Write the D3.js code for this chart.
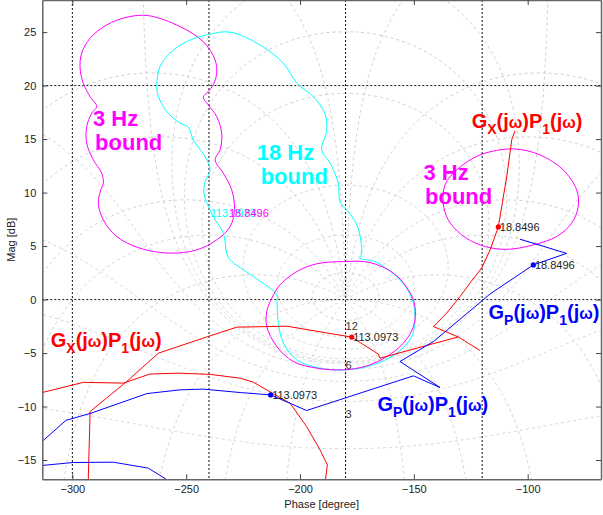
<!DOCTYPE html>
<html><head><meta charset="utf-8">
<script src="https://cdn.jsdelivr.net/npm/d3@7"></script>
<style>
body{margin:0;background:#fff;}
svg{display:block;font-family:"Liberation Sans",Arial,sans-serif;}
</style></head>
<body><svg id="chart" width="603" height="515"></svg>
<script>
// ---------- data (phase [deg], magnitude [dB]) ----------
const xTicks = [-300, -250, -200, -150, -100];
const yTicks = [-15, -10, -5, 0, 5, 10, 15, 20, 25];
const refPhases = [-300, -240, -180, -120];
const refMags = [0, 20];

const bound3HzLeft = [[-266.6,26.54],[-252.7,25.51],[-242.5,24.11],[-237.3,22.40],[-236.6,21.16],[-238.1,20.07],[-240.3,19.44],[-242.5,18.92],[-240.3,18.20],[-236.6,17.10],[-234.4,15.55],[-235.1,13.99],[-237.3,13.06],[-233.7,11.81],[-230.0,10.25],[-228.8,8.38],[-230.7,6.82],[-236.6,5.58],[-245.4,4.64],[-257.1,4.34],[-270.3,4.80],[-280.5,5.89],[-286.4,7.45],[-288.6,9.01],[-287.5,10.25],[-286.4,10.88],[-287.1,11.81],[-290.8,13.06],[-293.7,14.62],[-293.7,16.17],[-291.5,17.42],[-289.3,18.04],[-292.2,18.97],[-295.2,20.22],[-296.6,21.63],[-295.9,23.03],[-292.2,24.43],[-284.9,25.67],[-276.1,26.39]];

const bound18Hz = [[-230.7,24.99],[-217.6,23.80],[-207.3,22.09],[-201.4,20.22],[-194.2,18.97],[-189.0,17.36],[-188.3,15.77],[-190.5,13.99],[-186.8,12.75],[-183.2,10.88],[-182.4,9.13],[-178.0,8.01],[-174.5,6.70],[-172.9,4.36],[-173.6,3.87],[-167.1,3.55],[-156.1,1.84],[-150.9,0.13],[-149.5,-1.59],[-150.9,-3.46],[-157.5,-5.01],[-167.8,-6.10],[-179.5,-6.57],[-191.2,-6.41],[-201.4,-5.64],[-207.3,-4.07],[-209.5,-2.21],[-210.1,-0.31],[-210.2,0.44],[-220.5,2.15],[-230.7,3.71],[-232.2,4.34],[-233.7,6.21],[-238.1,7.76],[-242.2,9.94],[-241.7,11.03],[-239.5,12.12],[-241.7,13.36],[-246.9,14.93],[-249.1,16.14],[-252.7,16.49],[-258.5,17.57],[-262.2,18.97],[-262.9,20.07],[-261.5,21.78],[-257.1,23.03],[-249.8,24.11],[-241.0,24.74]];

const bound3HzLow = [[-181.0,3.55],[-169.3,3.46],[-159.0,2.47],[-152.4,0.91],[-149.5,-0.65],[-150.2,-2.52],[-154.6,-4.07],[-161.9,-5.33],[-170.7,-6.20],[-181.0,-6.57],[-192.7,-6.41],[-202.9,-5.79],[-210.2,-4.39],[-214.6,-2.52],[-214.6,-1.12],[-212.4,0.13],[-208.8,1.37],[-201.4,2.62],[-192.7,3.34]];

const bound3HzRight = [[-106.3,14.08],[-94.6,13.52],[-84.4,12.12],[-78.5,10.25],[-77.8,8.69],[-80.7,7.14],[-87.3,5.89],[-97.5,5.11],[-110.0,4.69],[-120.9,5.11],[-129.0,6.05],[-134.9,7.45],[-137.1,9.01],[-136.3,10.72],[-131.2,12.12],[-120.9,13.52]];

const gxA = [[-105.6,15.77],[-107.0,14.93],[-109.2,11.50],[-112.9,6.79],[-116.5,4.64],[-120.2,2.96],[-125.3,1.56],[-129.7,0.28],[-135.6,-1.27],[-141.4,-2.52],[-130.5,-3.49],[-120.9,-4.77]];
const gxB = [[-293.1,-17.5],[-292.2,-10.47],[-276.1,-7.66],[-262.2,-5.01],[-239.5,-3.39],[-227.8,-2.58],[-205.8,-2.49],[-177.3,-3.51],[-165.6,-5.10],[-164.9,-5.48],[-130.5,-3.49]];
const gxC = [[-314,-8.73],[-295.2,-7.74],[-277.6,-7.81],[-265.9,-6.96],[-253.6,-6.88],[-239.5,-6.99],[-226.3,-7.35],[-220.5,-7.72],[-211.7,-8.81],[-204.4,-9.68],[-197.1,-11.87],[-191.2,-14.05],[-188.0,-15.45],[-189.2,-17.5]];
const gpA = [[-103.4,5.64],[-82.9,4.32],[-97.5,3.24],[-116.5,0.53],[-128.3,-1.59],[-141.4,-3.93],[-156.1,-5.79],[-138.5,-8.22],[-150.2,-7.13],[-197.1,-10.37],[-212.9,-8.91],[-226.3,-8.69],[-242.5,-8.37],[-252.7,-8.44],[-267.3,-8.79],[-291.8,-10.62],[-302.8,-11.29],[-314,-13.4]];
const gpC = [[-314,-15.52],[-299.6,-15.23],[-282.0,-15.20],[-266.6,-15.76],[-255.0,-17.3]];

const redDots = [[-177.3,-3.51,"113.0973"],[-112.9,6.79,"18.8496"]];
const blueDots = [[-212.9,-8.91,"113.0973"],[-97.5,3.24,"18.8496"]];

// closed-loop grid values
const gridM = [12, 6, 3, 1, 0.5, 0.25, 0, -1, -3, -6, -12, -20];
const gridN = [-1, -5, -10, -20, -30, -50, -90, -120, -150, -180];
const gridLabels = [[-180,-2.52,"12"],[-180,-6.10,"6"],[-180,-10.68,"3"]];

// ---------- layout ----------
const svg = d3.select("#chart");
const L = 42.3, R = 601, T = 0, B = 479.3;
const x = d3.scaleLinear().domain([-313.2, -67.8]).range([L, R]);
const y = d3.scaleLinear().domain([-16.8, 28.0]).range([B, T]);

svg.append("defs").append("clipPath").attr("id","clip")
  .append("rect").attr("x",L).attr("y",T).attr("width",R-L).attr("height",B-T);
const plot = svg.append("g").attr("clip-path","url(#clip)");

const line = d3.line().x(d=>x(d[0])).y(d=>y(d[1]));
const lineClosed = d3.line().x(d=>x(d[0])).y(d=>y(d[1])).curve(d3.curveLinearClosed);
const smoothClosed = d3.line().x(d=>x(d[0])).y(d=>y(d[1])).curve(d3.curveCatmullRomClosed.alpha(0.5));

// ---------- Nichols grid ----------
function gOf(Tr, Ti){
  const Dr = 1-Tr, Di = -Ti, den = Dr*Dr+Di*Di;
  return [(Tr*Dr+Ti*Di)/den, (Ti*Dr-Tr*Di)/den];
}
const gridG = plot.append("g").attr("fill","none").attr("stroke","#d0d0d0")
  .attr("stroke-width",1).attr("stroke-dasharray","3,3");
gridM.forEach(M=>{
  const m = Math.pow(10, M/20); const pts = [];
  for (let t=0.25; t<360; t+=0.25){
    const th = -t*Math.PI/180;
    const G = gOf(m*Math.cos(th), m*Math.sin(th));
    let ph = Math.atan2(G[1],G[0])*180/Math.PI; if (ph>0) ph -= 360;
    const g = 10*Math.log10(G[0]*G[0]+G[1]*G[1]);
    if (isFinite(g)) pts.push([ph, Math.max(-60, Math.min(80, g))]);
  }
  if (M>0) gridG.append("path").attr("d", lineClosed(pts));
  else { pts.sort((a,b)=>a[0]-b[0]); gridG.append("path").attr("d", line(pts)); }
});
gridN.forEach(phi=>{
  const pts = []; let prev = phi;
  for (let k=-3; k<=3; k+=0.005){
    const r = Math.pow(10,k), th = phi*Math.PI/180;
    const G = gOf(r*Math.cos(th), r*Math.sin(th));
    let ph = Math.atan2(G[1],G[0])*180/Math.PI;
    while (ph-prev>180) ph-=360; while (ph-prev<-180) ph+=360; prev = ph;
    const g = 10*Math.log10(G[0]*G[0]+G[1]*G[1]);
    pts.push([ph, Math.max(-60, Math.min(80, g))]);
  }
  gridG.append("path").attr("d", line(pts));
  gridG.append("path").attr("d", line(pts.map(p=>[-360-p[0], p[1]])));
});

// reference dashed lines
const refG = plot.append("g").attr("stroke","#111").attr("stroke-width",1).attr("stroke-dasharray","2,2");
refPhases.forEach(p=>refG.append("line").attr("x1",x(p)).attr("x2",x(p)).attr("y1",T).attr("y2",B));
refMags.forEach(m=>refG.append("line").attr("x1",L).attr("x2",R).attr("y1",y(m)).attr("y2",y(m)));

// ---------- bounds ----------
[[bound3HzLeft,"#ff00ff"],[bound18Hz,"#00ffff"],[bound3HzLow,"#ff00ff"],[bound3HzRight,"#ff00ff"]].forEach(b=>{
  plot.append("path").attr("d",smoothClosed(b[0])).attr("fill","none").attr("stroke",b[1]).attr("stroke-width",1);
});

// ---------- loop responses ----------
[gxA,gxB,gxC].forEach(d=>plot.append("path").attr("d",line(d)).attr("fill","none").attr("stroke","#ff0000").attr("stroke-width",1));
[gpA,gpC].forEach(d=>plot.append("path").attr("d",line(d)).attr("fill","none").attr("stroke","#0000ff").attr("stroke-width",1));

function dots(arr, col){
  arr.forEach(d=>{
    plot.append("circle").attr("cx",x(d[0])).attr("cy",y(d[1])).attr("r",2.6).attr("fill",col);
    plot.append("text").attr("x",x(d[0])+1.5).attr("y",y(d[1])).attr("dy","0.36em")
      .attr("font-size",11).attr("fill","#222").text(d[2]);
  });
}
dots(redDots,"#ff0000");
dots(blueDots,"#0000ff");

// small labels on bounds
plot.append("text").attr("x",x(-239.3)).attr("y",y(8.13)).attr("dy","0.36em").attr("font-size",11).attr("fill","#00ffff").text("113.0973");
plot.append("text").attr("x",x(-231.2)).attr("y",y(8.13)).attr("dy","0.36em").attr("font-size",11).attr("fill","#ff00ff").text("18.8496");
gridLabels.forEach(d=>plot.append("text").attr("x",x(d[0])).attr("y",y(d[1])).attr("dy","0.36em").attr("font-size",11).attr("fill","#333").text(d[2]));

// big labels
function twoLine(p1,m1,p2,m2,t1,t2,col){
  plot.append("text").attr("x",x(p1)).attr("y",y(m1)).attr("font-size",22).attr("font-weight","bold").attr("fill",col).text(t1);
  plot.append("text").attr("x",x(p2)).attr("y",y(m2)).attr("font-size",22).attr("font-weight","bold").attr("fill",col).text(t2);
}
twoLine(-290.95,16.21,-290.0,13.94,"3 Hz","bound","#ff00ff");
twoLine(-219.0,13.08,-217.3,10.79,"18 Hz","bound","#00ffff");
twoLine(-145.8,11.19,-145.1,8.94,"3 Hz","bound","#ff00ff");

function tf(p,m,sub,col){
  const t = plot.append("text").attr("x",x(p)).attr("y",y(m)).attr("font-size",20).attr("font-weight","bold").attr("fill",col);
  t.append("tspan").text("G");
  t.append("tspan").attr("font-size",14).attr("dy",6).text(sub);
  t.append("tspan").attr("dy",-6).text("(j");
  t.append("tspan").attr("font-size",16).text("\u03c9");
  t.append("tspan").text(")P");
  t.append("tspan").attr("font-size",14).attr("dy",6).text("1");
  t.append("tspan").attr("dy",-6).text("(j");
  t.append("tspan").attr("font-size",16).text("\u03c9");
  t.append("tspan").text(")");
}
tf(-124.6,16.0,"X","#ff0000");
tf(-309.5,-4.42,"X","#ff0000");
tf(-117.2,-1.80,"P","#0000ff");
tf(-166.0,-10.37,"P","#0000ff");

// ---------- axes ----------
function styleAxis(g){
  g.select(".domain").attr("stroke","#666").attr("stroke-width",1.5);
  g.selectAll(".tick line").attr("stroke","#444");
  g.selectAll(".tick text").attr("fill","#222").attr("font-size",11).attr("font-family","Liberation Sans, Arial, sans-serif");
}
svg.append("g").attr("transform",`translate(0,${B})`)
  .call(d3.axisBottom(x).tickValues(xTicks).tickSizeInner(-5).tickSizeOuter(0).tickPadding(6)).call(styleAxis);
svg.append("g").attr("transform",`translate(${L},0)`)
  .call(d3.axisLeft(y).tickValues(yTicks).tickSizeInner(-5).tickSizeOuter(0).tickPadding(6)).call(styleAxis);
svg.append("g").attr("transform",`translate(0,${T})`)
  .call(d3.axisTop(x).tickValues(xTicks).tickSizeInner(-5).tickSizeOuter(0).tickFormat("")).call(styleAxis);
svg.append("g").attr("transform",`translate(${R},0)`)
  .call(d3.axisRight(y).tickValues(yTicks).tickSizeInner(-5).tickSizeOuter(0).tickFormat("")).call(styleAxis);

svg.append("text").attr("x",(L+R)/2).attr("y",508).attr("text-anchor","middle").attr("font-size",11).attr("fill","#222").text("Phase [degree]");
svg.append("text").attr("transform",`translate(15,${(T+B)/2}) rotate(-90)`).attr("text-anchor","middle").attr("font-size",11).attr("fill","#222").text("Mag [dB]");
</script></body></html>
